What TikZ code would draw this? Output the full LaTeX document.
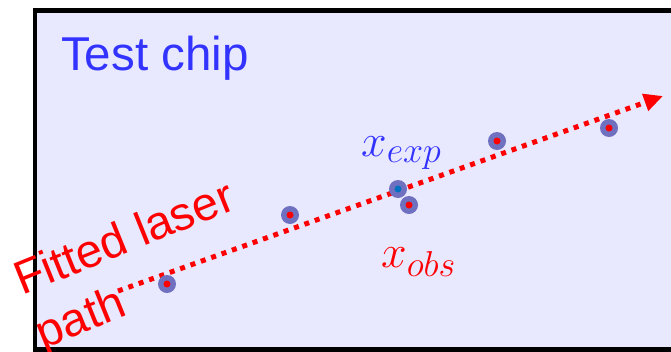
\RequirePackage{fix-cm}
\documentclass[tikz,border=0pt]{standalone}
\usepackage{fontspec}
\setmainfont{Liberation Sans}
\usetikzlibrary{arrows.meta,positioning}
\definecolor{chipfill}{RGB}{232,232,255}
\definecolor{chipblue}{RGB}{51,51,255}
\definecolor{laserred}{RGB}{255,0,0}
\definecolor{ringblue}{RGB}{112,112,192}
\definecolor{expblue}{RGB}{0,112,192}
\DeclareMathSizes{46}{46}{36}{28}

\begin{document}
\begin{tikzpicture}[x=1pt,y=-1pt,
spot/.style={circle,fill=ringblue,minimum size=18pt,inner sep=0pt,
path picture={\fill[#1] (path picture bounding box.center) circle (3.5pt);}},
spot/.default=laserred,
laser/.style={draw=laserred,line width=5pt,dash pattern=on 5pt off 6pt,
-{Triangle[length=19pt,width=17pt,sep=0pt]}},
lbl/.style={inner sep=0pt,anchor=base west}
]
\useasboundingbox (0,0) rectangle (671,351);
\clip (0,0) rectangle (671,351);
% chip outline
\draw[line width=4.5pt,fill=chipfill] (35,10.5) rectangle (700,349.5);
\node[lbl,text=chipblue,font=\fontsize{47.5}{52}\selectfont] (chip) at (61,70) {Test chip};
% fitted path
\coordinate (start) at (118,291);
\coordinate (tip) at (663,96);
\draw[laser] (start) -- (tip);
% spots
\node[spot] (s1) at (167,284) {};
\node[spot] (s2) at (290,215) {};
\node[spot=expblue] (exp) at (398,189) {};
\node[spot] (obs) at (409,205) {};
\node[spot] (s5) at (497,141) {};
\node[spot] (s6) at (609,128) {};
% labels
\node[lbl,text=chipblue,font=\fontsize{46}{50}\selectfont] (xexp) at (361,156) {$x_{exp}$};
\node[lbl,text=laserred,font=\fontsize{46}{50}\selectfont] (xobs) at (381,267) {$x_{obs}$};
\node[inner sep=0pt,anchor=north west,rotate=22,align=left,text=laserred,
font=\fontsize{47}{58}\selectfont] (fit) at (9,264) {Fitted laser\\path};
\end{tikzpicture}
\end{document}
